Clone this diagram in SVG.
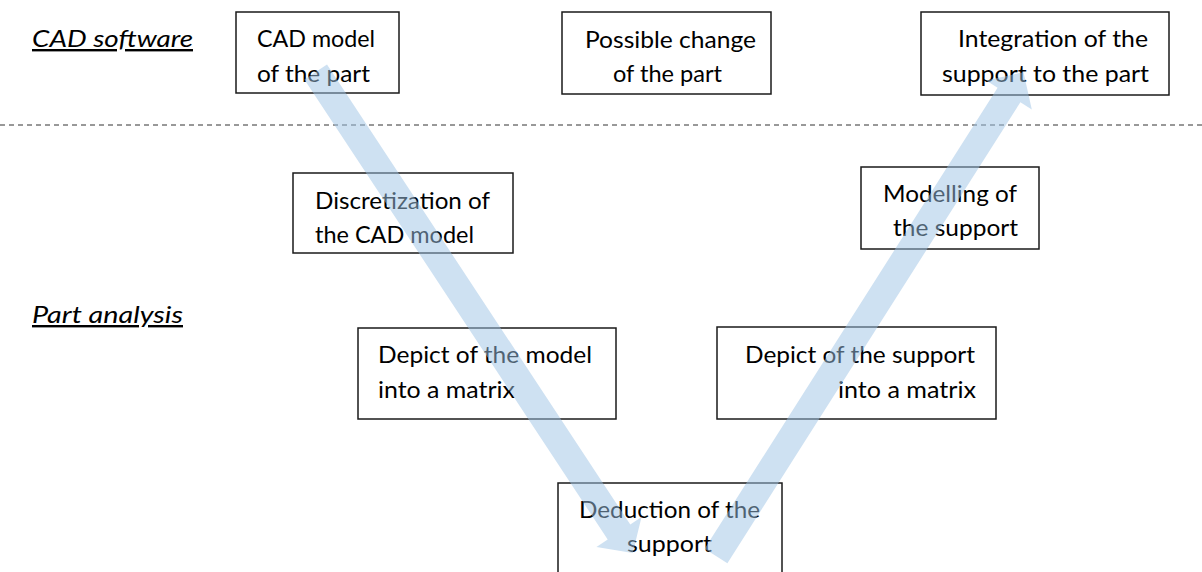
<svg xmlns="http://www.w3.org/2000/svg" width="1202" height="572" viewBox="0 0 1202 572">
<style>
.box{fill:#ffffff;stroke:#1a1a1a;stroke-width:1.5}
.t{font-family:Lato,"Open Sans","Liberation Sans",sans-serif;font-size:24px;fill:#000}
.lbl{font-family:Lato,"Open Sans","Liberation Sans",sans-serif;font-size:24px;font-style:italic;fill:#000;text-decoration:underline}
.arrow{fill:#9DC3E6;fill-opacity:0.5;stroke:none}
.sep{stroke:#333333;stroke-width:1;stroke-dasharray:5 4;fill:none}
</style>
<rect width="1202" height="572" fill="#ffffff"/>
<g id="labels">
<text class="lbl" x="32" y="47" textLength="161" lengthAdjust="spacingAndGlyphs">CAD software</text>
<text class="lbl" x="32" y="323" textLength="151" lengthAdjust="spacingAndGlyphs">Part analysis</text>
</g>
<line class="sep" x1="0" y1="125" x2="1202" y2="125"/>
<g id="n1"><rect class="box" x="236" y="12" width="163" height="81"/>
<text class="t" x="257" y="47" textLength="118" lengthAdjust="spacingAndGlyphs">CAD model</text>
<text class="t" x="257" y="82" textLength="113" lengthAdjust="spacingAndGlyphs">of the part</text></g>
<g id="n2"><rect class="box" x="562" y="12" width="209" height="82"/>
<text class="t" x="585" y="48" textLength="171" lengthAdjust="spacingAndGlyphs">Possible change</text>
<text class="t" x="613" y="82" textLength="109" lengthAdjust="spacingAndGlyphs">of the part</text></g>
<g id="n3"><rect class="box" x="921" y="12" width="248" height="83"/>
<text class="t" x="958" y="47" textLength="190" lengthAdjust="spacingAndGlyphs">Integration of the</text>
<text class="t" x="942" y="82" textLength="207" lengthAdjust="spacingAndGlyphs">support to the part</text></g>
<g id="n4"><rect class="box" x="293" y="173" width="220" height="80"/>
<text class="t" x="315" y="209" textLength="175" lengthAdjust="spacingAndGlyphs">Discretization of</text>
<text class="t" x="315" y="243" textLength="159" lengthAdjust="spacingAndGlyphs">the CAD model</text></g>
<g id="n5"><rect class="box" x="861" y="167" width="178" height="82"/>
<text class="t" x="883" y="202" textLength="134" lengthAdjust="spacingAndGlyphs">Modelling of</text>
<text class="t" x="893" y="236" textLength="125" lengthAdjust="spacingAndGlyphs">the support</text></g>
<g id="n6"><rect class="box" x="358" y="328" width="258" height="91"/>
<text class="t" x="378" y="363" textLength="214" lengthAdjust="spacingAndGlyphs">Depict of the model</text>
<text class="t" x="378" y="398" textLength="137" lengthAdjust="spacingAndGlyphs">into a matrix</text></g>
<g id="n7"><rect class="box" x="717" y="327" width="279" height="92"/>
<text class="t" x="745" y="363" textLength="230" lengthAdjust="spacingAndGlyphs">Depict of the support</text>
<text class="t" x="838" y="398" textLength="138" lengthAdjust="spacingAndGlyphs">into a matrix</text></g>
<g id="n8"><rect class="box" x="558" y="483" width="224" height="100"/>
<text class="t" x="579" y="518" textLength="181" lengthAdjust="spacingAndGlyphs">Deduction of the</text>
<text class="t" x="627" y="552" textLength="85" lengthAdjust="spacingAndGlyphs">support</text></g>
<g id="connectors">
<polygon class="arrow" points="327.0,64.6 630.3,524.6 641.5,517.1 632.8,552.9 596.5,546.9 607.7,539.4 304.4,79.4"/>
<polygon class="arrow" points="727.4,563.2 1020.4,102.2 1031.8,109.5 1023.5,72.2 986.2,80.5 997.6,87.8 704.6,548.8"/>
</g>
</svg>
